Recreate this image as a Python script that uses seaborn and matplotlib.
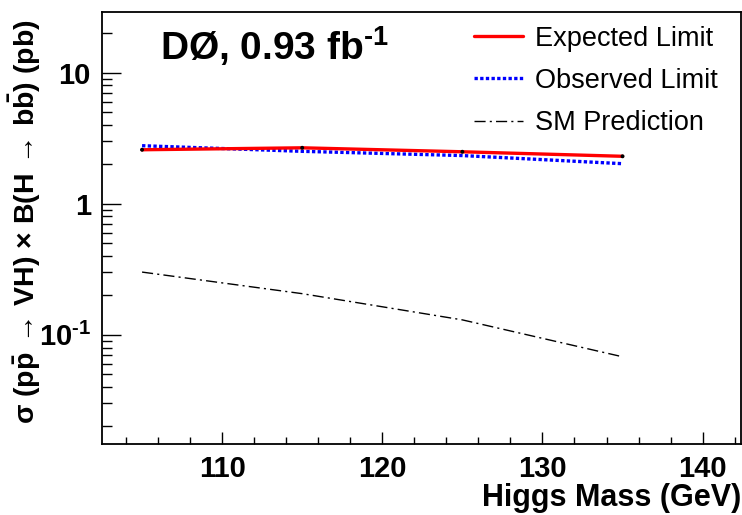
import matplotlib
matplotlib.use("Agg")
import matplotlib.pyplot as plt
import seaborn as sns
import pandas as pd
import numpy as np
from matplotlib.ticker import FixedLocator, FixedFormatter, MultipleLocator

# Data
higgs_mass = [105, 115, 125, 135]
expected_limit = [2.58, 2.67, 2.49, 2.30]
observed_limit = [2.77, 2.51, 2.33, 2.02]
sm_prediction = [0.301, 0.206, 0.130, 0.068]

x_ticks = [110, 120, 130, 140]
y_ticks = [0.1, 1, 10]
y_tick_labels = [r"10$^{\mathbf{\text{-}1}}$", "1", "10"]

sns.set_style("ticks")
plt.rcParams["font.family"] = ["Liberation Sans", "DejaVu Sans"]
plt.rcParams["mathtext.fontset"] = "custom"
plt.rcParams["mathtext.rm"] = "Liberation Sans:bold"
plt.rcParams["mathtext.bf"] = "Liberation Sans:bold"
plt.rcParams["mathtext.it"] = "Liberation Sans:italic:bold"
plt.rcParams["text.color"] = "black"
plt.rcParams["axes.labelcolor"] = "black"
plt.rcParams["xtick.color"] = "black"
plt.rcParams["ytick.color"] = "black"

fig = plt.figure(figsize=(7.42, 5.15), dpi=100)
ax = fig.add_axes([0.1375, 0.1379, 0.8612, 0.8388])

df = pd.DataFrame({
    "mass": higgs_mass * 3,
    "value": expected_limit + observed_limit + sm_prediction,
    "series": ["Expected Limit"] * 4 + ["Observed Limit"] * 4 + ["SM Prediction"] * 4,
})

sns.lineplot(data=df[df.series == "Expected Limit"], x="mass", y="value", ax=ax,
             color="#ff0000", lw=2.4, label="Expected Limit", zorder=3)
sns.lineplot(data=df[df.series == "Observed Limit"], x="mass", y="value", ax=ax,
             color="#0000ff", lw=2.4, linestyle=(0, (1, 0.7)), label="Observed Limit", zorder=2)
sns.lineplot(data=df[df.series == "SM Prediction"], x="mass", y="value", ax=ax,
             color="black", lw=1.0, linestyle=(0, (8, 3, 1.5, 3)), label="SM Prediction", zorder=2)
sns.scatterplot(x=higgs_mass, y=expected_limit, ax=ax, color="black", s=8,
                edgecolor="none", zorder=4, legend=False)

ax.set_yscale("log")
ax.set_xlim(102.5, 142.4)
ax.set_ylim(0.0147, 29)

ax.xaxis.set_major_locator(FixedLocator(x_ticks))
ax.xaxis.set_minor_locator(MultipleLocator(2))
ax.yaxis.set_major_locator(FixedLocator(y_ticks))
ax.yaxis.set_major_formatter(FixedFormatter(y_tick_labels))
ax.yaxis.set_minor_locator(matplotlib.ticker.LogLocator(base=10, subs=np.arange(2, 10)))
ax.yaxis.set_minor_formatter(matplotlib.ticker.NullFormatter())

ax.tick_params(axis="both", which="both", direction="in", colors="black", width=1.0)
ax.tick_params(axis="y", which="major", length=14, pad=8)
ax.tick_params(axis="y", which="minor", length=7)
ax.tick_params(axis="x", which="major", length=9, pad=8)
ax.tick_params(axis="x", which="minor", length=5)
for lab in ax.get_xticklabels() + ax.get_yticklabels():
    lab.set_fontsize(21)
    lab.set_fontweight("bold")

for s in ax.spines.values():
    s.set_linewidth(1.3)
    s.set_color("black")

ax.set_xlabel("Higgs Mass (GeV)", fontsize=22, fontweight="bold", loc="right", labelpad=0)
ax.set_ylabel(r"σ (p$\bar{\mathrm{p}}\,\rightarrow\,$VH) $\times$ B(H$\,\rightarrow\,$b$\bar{\mathrm{b}}$) (pb)",
              fontsize=20.5, fontweight="bold")
ax.yaxis.set_label_coords(-0.093, 0.514)

ax.text(0.091, 0.921, "DØ, 0.93 fb$^{\\text{-}1}$", transform=ax.transAxes,
        fontsize=28, fontweight="bold", va="center", ha="left", color="black")

leg = ax.legend(loc="upper right", bbox_to_anchor=(0.985, 1.0), frameon=False,
                fontsize=19.5, handlelength=1.8, handletextpad=0.45, labelspacing=0.6,
                borderaxespad=0.1, labelcolor="black")

fig.savefig("out.png", dpi=100)
